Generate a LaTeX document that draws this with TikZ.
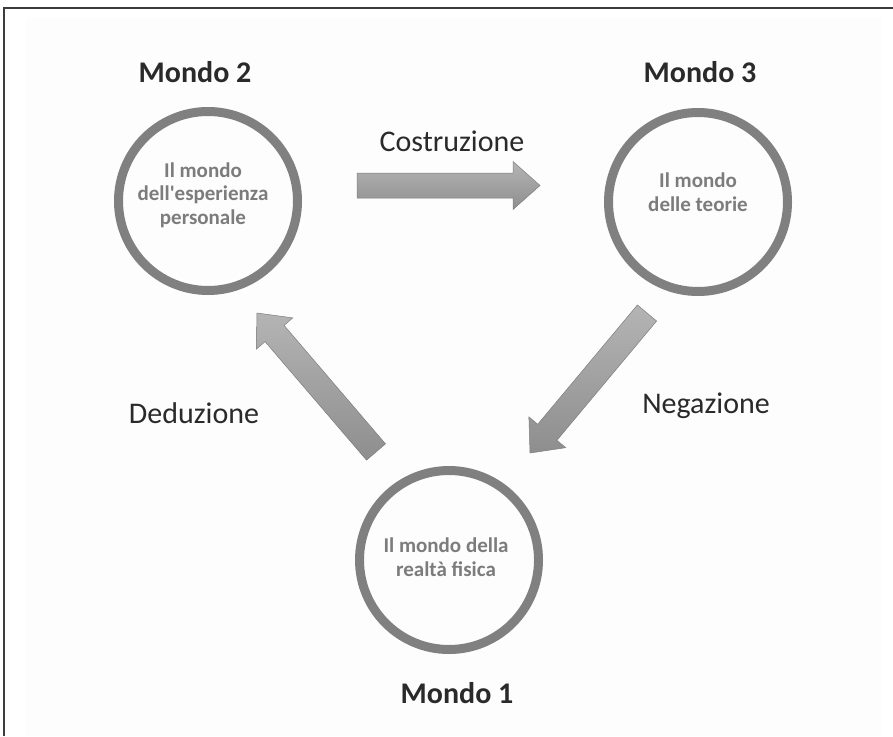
\documentclass[tikz,border=0pt]{standalone}
\usepackage{fontspec}
\setmainfont{Carlito}
\usetikzlibrary{calc}
\definecolor{framecol}{HTML}{3C3C3C}
\definecolor{ringcol}{HTML}{808080}
\definecolor{innertxt}{HTML}{7C7C7C}
\definecolor{labeltxt}{HTML}{2A2A2A}
\definecolor{arrowlight}{HTML}{B4B4B4}
\definecolor{arrowdark}{HTML}{8E8E8E}
\definecolor{panel}{HTML}{FDFDFD}
\tikzset{
  ring/.style={draw=ringcol, line width=9pt, circle, minimum size=179pt, inner sep=0pt},
  inner/.style={text=innertxt, font=\fontsize{21}{23.5}\selectfont\bfseries, align=center, inner sep=0pt},
  mondo/.style={text=labeltxt, font=\fontsize{30}{36}\selectfont\bfseries, inner sep=0pt},
  verb/.style={text=labeltxt, font=\fontsize{30}{36}\selectfont, inner sep=0pt},
  arrowbody/.style={top color=arrowlight, bottom color=arrowdark, draw=arrowdark!90!black, line width=0.5pt},
  arrowshadow/.style={fill=black, opacity=0.12}
}
% block arrow from tail #1 to tip #2, prefix #3
\newcommand{\blockarrow}[3]{%
  \coordinate (#3h) at ($(#2)!27pt!(#1)$);
  \coordinate (#3a) at ($(#1)!12.5pt!90:(#2)$);
  \coordinate (#3b) at ($(#3h)!12.5pt!90:(#2)$);
  \coordinate (#3c) at ($(#3h)!24pt!90:(#2)$);
  \coordinate (#3d) at ($(#3h)!24pt!-90:(#2)$);
  \coordinate (#3e) at ($(#3h)!12.5pt!-90:(#2)$);
  \coordinate (#3f) at ($(#1)!12.5pt!-90:(#2)$);
  \begin{scope}[shift={(2.5,3)}]
    \fill[arrowshadow] (#3a) -- (#3b) -- (#3c) -- (#2) -- (#3d) -- (#3e) -- (#3f) -- cycle;
  \end{scope}
  \shade[arrowbody] (#3a) -- (#3b) -- (#3c) -- (#2) -- (#3d) -- (#3e) -- (#3f) -- cycle;
}
\begin{document}
\begin{tikzpicture}[x=1pt,y=-1pt]
\useasboundingbox (0,0) rectangle (893,736);
\fill[white] (0,0) rectangle (893,736);
\fill[panel] (26,17) rectangle (881,736);
\draw[framecol, line width=2pt] (4,736) -- (4,8) -- (893,8);

% circles
\node[ring] (m2) at (208,201) {};
\node[ring] (m3) at (698,202) {};
\node[ring] (m1) at (449,560) {};

\node[inner] (t2) at (203,195) {Il mondo\\dell\textquotesingle esperienza\\personale};
\node[inner] (t3) at (698,192) {Il mondo\\delle teorie};
\node[inner] (t1) at (446,557) {Il mondo della\\realtà fisica};

\node[mondo] (l2) at (195,72) {Mondo 2};
\node[mondo] (l3) at (700,72) {Mondo 3};
\node[mondo] (l1) at (457,693) {Mondo 1};

% arrows
\coordinate (ctail) at (357,185.5);
\coordinate (ctip) at (540,185.5);
\coordinate (dtail) at (376,452);
\coordinate (dtip) at (257,313);
\coordinate (ntail) at (647,313);
\coordinate (ntip) at (530,453);
\blockarrow{ctail}{ctip}{ca}
\blockarrow{dtail}{dtip}{da}
\blockarrow{ntail}{ntip}{na}

\node[verb] (cv) at (452,141) {Costruzione};
\node[verb] (dv) at (194,413) {Deduzione};
\node[verb] (nv) at (706,406) {Negazione};
\end{tikzpicture}
\end{document}
